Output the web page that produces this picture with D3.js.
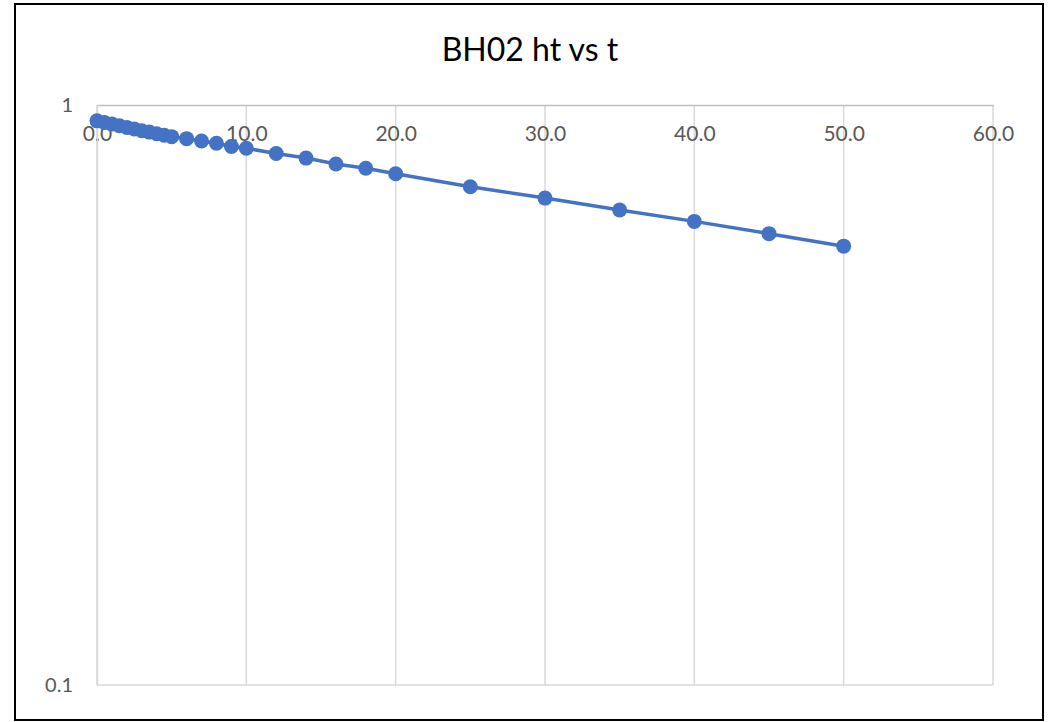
<!DOCTYPE html>
<html>
<head>
<meta charset="utf-8">
<script src="https://cdn.jsdelivr.net/npm/d3@7"></script>
<style>
  body { margin: 0; background: #fff; }
  svg text { font-family: Lato, "Open Sans", sans-serif; }
</style>
</head>
<body>
<svg id="chart" width="1048" height="722"></svg>
<script>
// data
var times = [0, 0.5, 1, 1.5, 2, 2.5, 3, 3.5, 4, 4.5, 5, 6, 7, 8, 9, 10, 12, 14, 16, 18, 20, 25, 30, 35, 40, 45, 50];
var heads = [0.939, 0.933, 0.927, 0.921, 0.915, 0.909, 0.903, 0.898, 0.892, 0.887, 0.882, 0.875, 0.867, 0.859, 0.848, 0.842,
             0.825, 0.810, 0.791, 0.778, 0.761, 0.723, 0.691, 0.659, 0.630, 0.600, 0.571];
var xTicks = [0, 10, 20, 30, 40, 50, 60];
var yTicks = [0.1, 1];

var svg = d3.select("#chart");
var plotL = 97, plotR = 993, plotT = 105, plotB = 685;

// outer frame
svg.append("rect")
    .attr("x", 15).attr("y", 4)
    .attr("width", 1028).attr("height", 716)
    .attr("fill", "#fff")
    .attr("stroke", "#000")
    .attr("stroke-width", 2);

svg.append("text")
    .attr("x", 530).attr("y", 61)
    .attr("text-anchor", "middle")
    .attr("font-size", 32)
    .attr("fill", "#000")
    .text("BH02 ht vs t");

var x = d3.scaleLinear().domain([0, 60]).range([plotL, plotR]);
var y = d3.scaleLog().domain([0.1, 1]).range([plotB, plotT]);

// vertical gridlines
svg.append("g")
    .selectAll("line")
    .data(xTicks)
    .enter()
    .append("line")
    .attr("x1", function (d) { return x(d); })
    .attr("x2", function (d) { return x(d); })
    .attr("y1", plotT)
    .attr("y2", plotB)
    .attr("stroke", "#d9d9d9")
    .attr("stroke-width", 1.5);

// bottom line at 0.1
svg.append("line")
    .attr("x1", plotL).attr("x2", plotR)
    .attr("y1", y(0.1)).attr("y2", y(0.1))
    .attr("stroke", "#d9d9d9").attr("stroke-width", 1.5);

// x axis crosses at 1 (top)
var xAxis = d3.axisBottom(x)
    .tickValues(xTicks)
    .tickSize(0)
    .tickPadding(21)
    .tickFormat(d3.format(".1f"));

var gx = svg.append("g")
    .attr("class", "axis x-axis")
    .attr("transform", "translate(0," + y(1) + ")")
    .call(xAxis);
gx.select(".domain").attr("stroke", "#bfbfbf").attr("stroke-width", 1.5);
gx.selectAll("text").attr("font-size", 21).attr("fill", "#595959").attr("font-family", "Lato, sans-serif");

var yAxis = d3.axisLeft(y)
    .tickValues(yTicks)
    .tickSize(0)
    .tickPadding(24)
    .tickFormat(function (d) { return String(d); });

var gy = svg.append("g")
    .attr("class", "axis y-axis")
    .attr("transform", "translate(" + plotL + ",0)")
    .call(yAxis);
gy.select(".domain").attr("stroke", "#d9d9d9").attr("stroke-width", 1.5);
gy.selectAll("text").attr("font-size", 20).attr("fill", "#595959").attr("font-family", "Lato, sans-serif");

var points = times.map(function (t, i) { return { t: t, h: heads[i] }; });

var line = d3.line()
    .x(function (d) { return x(d.t); })
    .y(function (d) { return y(d.h); });

svg.append("path")
    .datum(points)
    .attr("d", line)
    .attr("fill", "none")
    .attr("stroke", "#4472C4")
    .attr("stroke-width", 3.5);

svg.selectAll("circle.pt")
    .data(points)
    .enter()
    .append("circle")
    .attr("class", "pt")
    .attr("r", 7.5)
    .attr("cx", function (d) { return x(d.t); })
    .attr("cy", function (d) { return y(d.h); })
    .attr("fill", "#4472C4");
</script>
</body>
</html>
